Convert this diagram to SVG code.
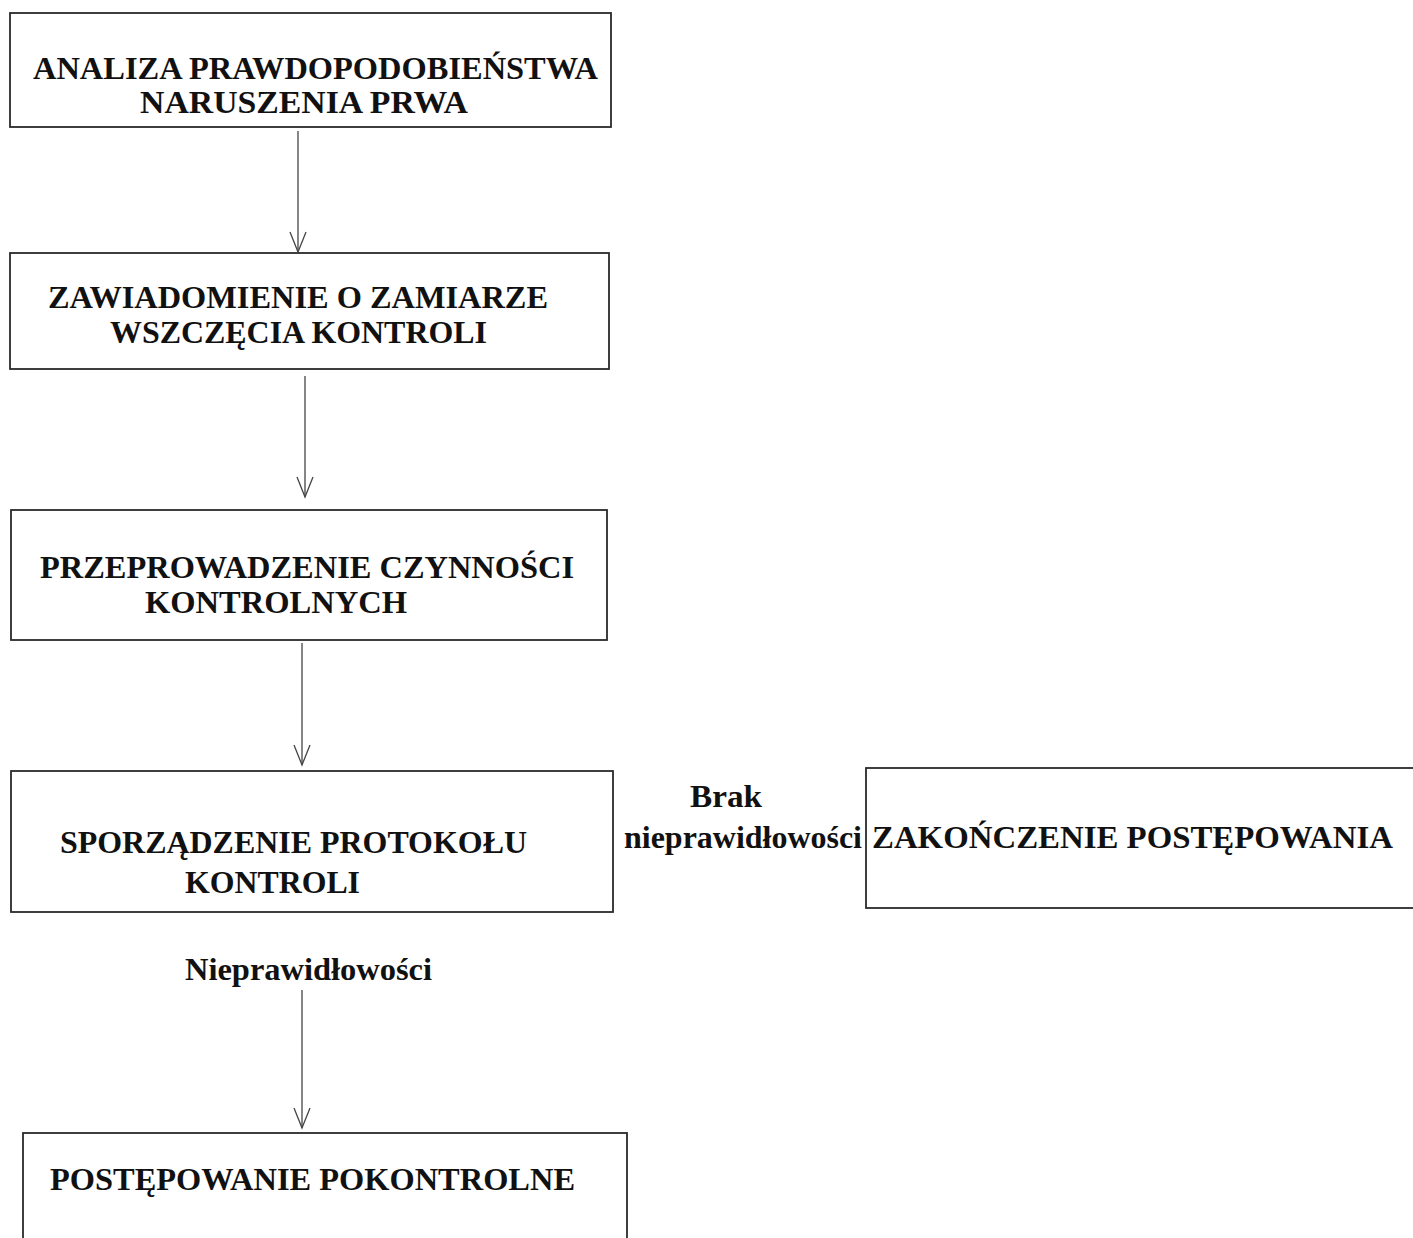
<svg xmlns="http://www.w3.org/2000/svg" width="1413" height="1238" viewBox="0 0 1413 1238">
<style>
.box{fill:none;stroke:#2a2a2a;stroke-width:1.8}
.t{font-family:"Liberation Serif","Times New Roman",serif;font-weight:bold;font-size:32px;fill:#111}
.c{stroke:#444;stroke-width:1.3;fill:none}
</style>
<defs>
<marker id="ah" markerWidth="24" markerHeight="20" refX="22" refY="10" orient="auto" markerUnits="userSpaceOnUse" viewBox="0 0 24 20">
<path d="M2 2 L22 10 L2 18" fill="none" stroke="#444" stroke-width="1.3"/>
</marker>
</defs>
<rect width="1413" height="1238" fill="#fff"/>
<g id="n1">
<rect class="box" x="10" y="13" width="601" height="114"/>
<text class="t" x="33" y="79" textLength="565" lengthAdjust="spacingAndGlyphs">ANALIZA PRAWDOPODOBIEŃSTWA</text>
<text class="t" x="140" y="113" textLength="328" lengthAdjust="spacingAndGlyphs">NARUSZENIA PRWA</text>
</g>
<g id="n2">
<rect class="box" x="10" y="253" width="599" height="116"/>
<text class="t" x="48" y="308" textLength="500" lengthAdjust="spacingAndGlyphs">ZAWIADOMIENIE O ZAMIARZE</text>
<text class="t" x="110" y="343" textLength="377" lengthAdjust="spacingAndGlyphs">WSZCZĘCIA KONTROLI</text>
</g>
<g id="n3">
<rect class="box" x="11" y="510" width="596" height="130"/>
<text class="t" x="40" y="578" textLength="534" lengthAdjust="spacingAndGlyphs">PRZEPROWADZENIE CZYNNOŚCI</text>
<text class="t" x="145" y="613" textLength="262" lengthAdjust="spacingAndGlyphs">KONTROLNYCH</text>
</g>
<g id="n4">
<rect class="box" x="11" y="771" width="602" height="141"/>
<text class="t" x="60" y="853" textLength="467" lengthAdjust="spacingAndGlyphs">SPORZĄDZENIE PROTOKOŁU</text>
<text class="t" x="185" y="893" textLength="175" lengthAdjust="spacingAndGlyphs">KONTROLI</text>
</g>
<g id="n5">
<rect class="box" x="866" y="768" width="560" height="140"/>
<text class="t" x="872" y="848" textLength="521" lengthAdjust="spacingAndGlyphs">ZAKOŃCZENIE POSTĘPOWANIA</text>
</g>
<g id="n6">
<rect class="box" x="23" y="1133" width="604" height="120"/>
<text class="t" x="50" y="1190" textLength="525" lengthAdjust="spacingAndGlyphs">POSTĘPOWANIE POKONTROLNE</text>
</g>
<g id="connectors">
<line class="c" x1="298" y1="131" x2="298" y2="252" marker-end="url(#ah)"/>
<line class="c" x1="305" y1="376" x2="305" y2="497" marker-end="url(#ah)"/>
<line class="c" x1="302" y1="643" x2="302" y2="765" marker-end="url(#ah)"/>
<line class="c" x1="302" y1="990" x2="302" y2="1128" marker-end="url(#ah)"/>
</g>
<g id="labels">
<text class="t" x="690" y="807" textLength="72" lengthAdjust="spacingAndGlyphs">Brak</text>
<text class="t" x="624" y="848" textLength="238" lengthAdjust="spacingAndGlyphs">nieprawidłowości</text>
<text class="t" x="185" y="980" textLength="247" lengthAdjust="spacingAndGlyphs">Nieprawidłowości</text>
</g>
</svg>
